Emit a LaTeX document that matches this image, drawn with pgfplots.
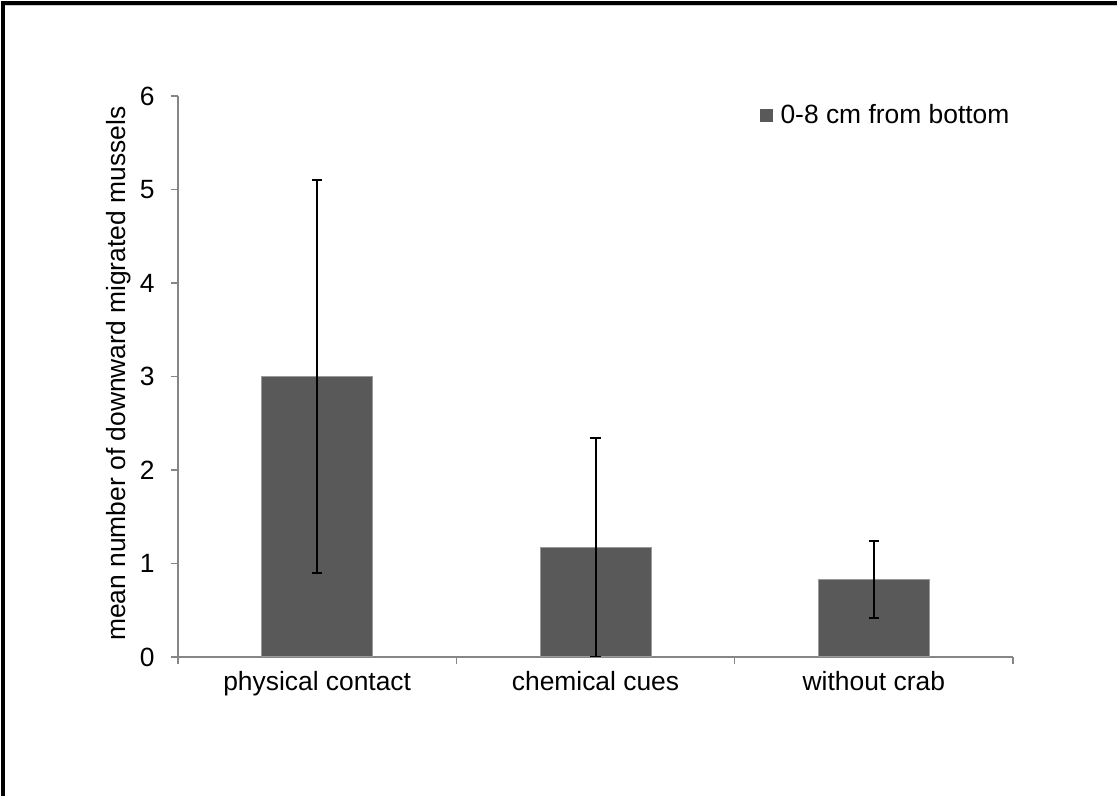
\documentclass[border=0pt]{standalone}
\usepackage{fontspec}
\setmainfont{Liberation Sans}
\usepackage{pgfplots}
\pgfplotsset{compat=1.18}
\definecolor{barc}{HTML}{595959}
\definecolor{barb}{HTML}{9A9A9A}
\definecolor{axisg}{HTML}{868686}
\begin{document}
\begin{tikzpicture}
\useasboundingbox (-89pt,-69.5pt) rectangle (469.5pt,328.5pt);
\begin{axis}[
  scale only axis, width=417.5pt, height=280.5pt,
  at={(0,0)}, anchor=south west,
  xmin=-0.5, xmax=2.5, ymin=0, ymax=6,
  axis x line*=bottom, axis y line*=left,
  axis line style={draw=axisg, line width=0.6pt},
  tick style={draw=axisg, line width=0.6pt},
  tick align=outside, major tick length=3.5pt,
  ytick={0,1,2,3,4,5,6},
  xtick={-0.5,0.5,1.5,2.5}, xticklabels={},
  extra x ticks={0,1,2},
  extra x tick labels={physical contact, chemical cues, without crab},
  extra x tick style={major tick length=0pt, xticklabel style={anchor=base, yshift=-16.5pt}},
  /pgf/number format/assume math mode=true,
  font=\fontsize{13.2}{15}\selectfont,
  ticklabel style={font=\fontsize{13.2}{15}\selectfont, black},
  yticklabel style={anchor=east, inner sep=0pt, xshift=-8pt},
  ylabel={mean number of downward migrated mussels},
  every axis y label/.style={at={(axis description cs:-0.0707,0.505)}, rotate=90, anchor=center},
  ybar, bar width=55.5pt,
  legend style={at={(axis description cs:0.696,0.966)}, anchor=west, draw=none, fill=none,
    inner sep=0pt, font=\fontsize{13.2}{15}\selectfont, nodes={inner sep=2.5pt}},
  legend image code/.code={\fill[barc] (0pt,-3pt) rectangle (6pt,3pt);},
]
\addplot[ybar, fill=barc, draw=barb, line width=0.5pt,
  error bars/.cd, y dir=both, y explicit,
  error bar style={line width=1pt, black},
  error mark options={line width=1pt, black, mark size=2.6pt, rotate=90}]
  coordinates {(0,3.0) +- (0,2.1) (1,1.17) +- (0,1.17) (2,0.83) +- (0,0.41)};
\addlegendentry{\hspace{1.5pt}0-8 cm from bottom}
\end{axis}
\draw[line width=2pt] (-87.6pt,-80pt) -- (-87.6pt,327.2pt) -- (480pt,327.2pt);
\draw[line width=0.5pt, gray!40] (-86.5pt,325.6pt) -- (480pt,325.6pt);
\end{tikzpicture}
\end{document}
